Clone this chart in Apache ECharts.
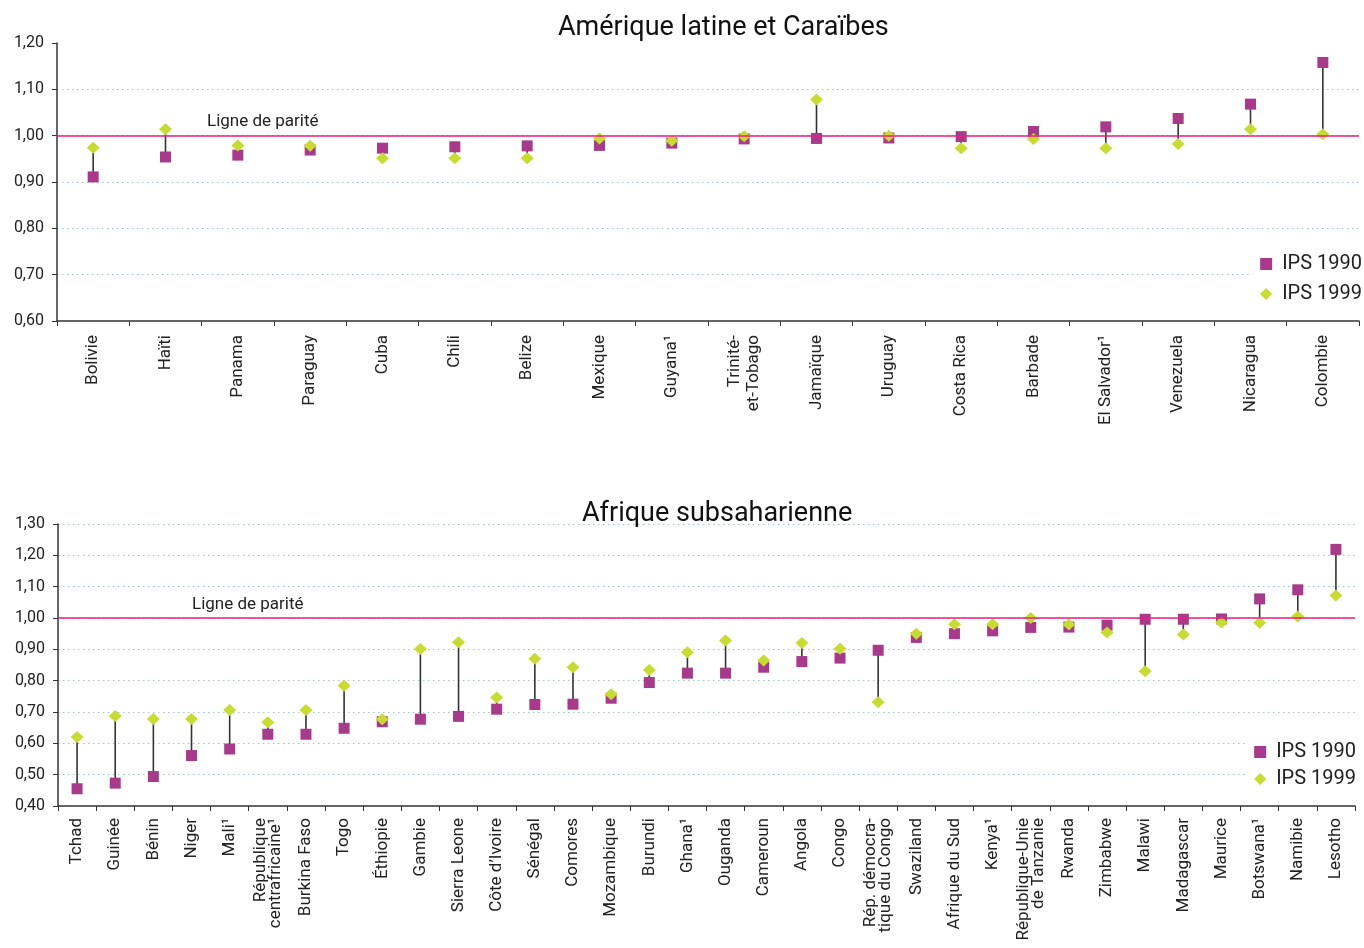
<!DOCTYPE html>
<html><head><meta charset="utf-8">
<script src="https://cdn.jsdelivr.net/npm/echarts@6/dist/echarts.min.js"></script>
<style>html,body{margin:0;padding:0;background:#fff}#c{width:1364px;height:948px}</style>
</head><body><div id="c"></div>
<script>
const latCats = ['Bolivie','Haïti','Panama','Paraguay','Cuba','Chili','Belize','Mexique','Guyana¹','Trinité-\net-Tobago','Jamaïque','Uruguay','Costa Rica','Barbade','El Salvador¹','Venezuela','Nicaragua','Colombie'];
const lat1990 = [0.911,0.954,0.958,0.969,0.973,0.976,0.978,0.979,0.984,0.993,0.994,0.995,0.998,1.009,1.019,1.037,1.068,1.158];
const lat1999 = [0.974,1.014,0.979,0.978,0.951,0.951,0.951,0.994,0.989,0.999,1.078,1.000,0.973,0.993,0.973,0.982,1.014,1.003];

const afCats = ['Tchad','Guinée','Bénin','Niger','Mali¹','République\ncentrafricaine¹','Burkina Faso','Togo','Éthiopie','Gambie','Sierra Leone','Côte d’Ivoire','Sénégal','Comores','Mozambique','Burundi','Ghana¹','Ouganda','Cameroun','Angola','Congo','Rép. démocra-\ntique du Congo','Swaziland','Afrique du Sud','Kenya¹','République-Unie\nde Tanzanie','Rwanda','Zimbabwe','Malawi','Madagascar','Maurice','Botswana¹','Namibie','Lesotho'];
const af1990 = [0.455,0.473,0.494,0.561,0.582,0.629,0.629,0.648,0.669,0.677,0.686,0.709,0.724,0.725,0.744,0.794,0.824,0.824,0.843,0.861,0.872,0.897,0.938,0.950,0.959,0.970,0.971,0.977,0.996,0.996,0.997,1.061,1.090,1.219];
const af1999 = [0.620,0.687,0.678,0.678,0.706,0.667,0.706,0.784,0.677,0.901,0.923,0.746,0.870,0.843,0.757,0.834,0.891,0.928,0.864,0.920,0.902,0.731,0.950,0.980,0.980,1.000,0.979,0.954,0.830,0.947,0.986,0.985,1.005,1.072];

const titles = ['Amérique latine et Caraïbes','Afrique subsaharienne'];
const seriesNames = ['IPS 1990','IPS 1999'];
const parityLabel = 'Ligne de parité';
const yRanges = [[0.6,1.2],[0.4,1.3]];

const C1990 = '#a93a8b', C1999 = '#c6dc2f', CPAR = '#ec1c7e', CGRID = '#9cc3d9';
const FONT = 'Roboto';

function yAxisCfg(gi, showMax){
  return {
    type:'value', gridIndex:gi, min:yRanges[gi][0], max:yRanges[gi][1], interval:0.1,
    axisLine:{show:true, lineStyle:{color:'#333', width:1.5}},
    axisTick:{show:true, length:5, lineStyle:{color:'#333'}},
    axisLabel:{color:'#222', fontSize:16, fontFamily:FONT, margin:13,
      formatter:v=>v.toFixed(2).replace('.',',')},
    splitLine:{show:true, showMinLine:false, showMaxLine:showMax,
      lineStyle:{color:CGRID, type:[1.5,3.5], width:1}}
  };
}
function xAxisCfg(gi, cats, margin, lh){
  return {
    type:'category', gridIndex:gi, data:cats, boundaryGap:true,
    axisLine:{lineStyle:{color:'#333', width:1.5}},
    axisTick:{show:true, length:5, alignWithLabel:false, lineStyle:{color:'#333'}},
    axisLabel:{rotate:90, interval:0, color:'#222', fontSize:17, fontFamily:FONT, margin:margin, lineHeight:lh}
  };
}
function connector(gi, a, b){
  return {
    type:'custom', xAxisIndex:gi, yAxisIndex:gi, z:1,
    data:a.map((v,i)=>[i, v, b[i]]),
    encode:{x:0, y:[1,2]},
    renderItem:(params, api)=>{
      const i = api.value(0);
      const p1 = api.coord([i, api.value(1)]);
      const p2 = api.coord([i, api.value(2)]);
      return {type:'line', shape:{x1:p1[0],y1:p1[1],x2:p2[0],y2:p2[1]},
        style:{stroke:'#333', lineWidth:1.6}};
    },
    silent:true
  };
}
function parity(gi, dx){
  return {
    silent:true, symbol:'none',
    lineStyle:{color:CPAR, width:1.6, type:'solid'},
    label:{show:true, formatter:parityLabel, position:'insideStartTop', distance:[dx,5],
      color:'#222', fontSize:17, fontFamily:FONT},
    data:[{yAxis:1}]
  };
}
function scatter1990(gi, d, withParity, dx){
  const s = {type:'scatter', name:seriesNames[0], xAxisIndex:gi, yAxisIndex:gi, z:3,
    symbol:'rect', symbolSize:11, itemStyle:{color:C1990, opacity:1}, data:d};
  if(withParity) s.markLine = parity(gi, dx);
  return s;
}
function scatter1999(gi, d){
  return {type:'scatter', name:seriesNames[1], xAxisIndex:gi, yAxisIndex:gi, z:4,
    symbol:'diamond', symbolSize:[13,12], itemStyle:{color:C1999, opacity:1}, data:d};
}
function legendCfg(right, top, gap){
  return {
    orient:'vertical', right:right, top:top, itemGap:gap, itemWidth:12, itemHeight:12,
    backgroundColor:'#fff', padding:[4,2,4,8],
    textStyle:{color:'#222', fontSize:20, fontFamily:FONT, padding:[0,0,0,5]},
    data:[{name:seriesNames[0], icon:'rect'},{name:seriesNames[1], icon:'diamond'}]
  };
}

const chart = echarts.init(document.getElementById('c'), null, {renderer:'canvas'});
chart.setOption({
  animation:false,
  backgroundColor:'#fff',
  title:[
    {text:titles[0], left:553, top:10, textStyle:{fontSize:27, fontWeight:'normal', color:'#111', fontFamily:FONT}},
    {text:titles[1], left:577, top:496, textStyle:{fontSize:27, fontWeight:'normal', color:'#111', fontFamily:FONT}}
  ],
  legend:[legendCfg(0, 250, 10), legendCfg(6, 738, 7)],
  grid:[
    {left:57, right:5, top:43, height:278},
    {left:58, right:9, top:524, height:282}
  ],
  xAxis:[xAxisCfg(0, latCats, 14, 19), xAxisCfg(1, afCats, 12, 15)],
  yAxis:[yAxisCfg(0,false), yAxisCfg(1,true)],
  series:[
    connector(0, lat1990, lat1999),
    scatter1990(0, lat1990, true, 150),
    scatter1999(0, lat1999),
    connector(1, af1990, af1999),
    scatter1990(1, af1990, true, 134),
    scatter1999(1, af1999)
  ]
});
</script>
</body></html>
